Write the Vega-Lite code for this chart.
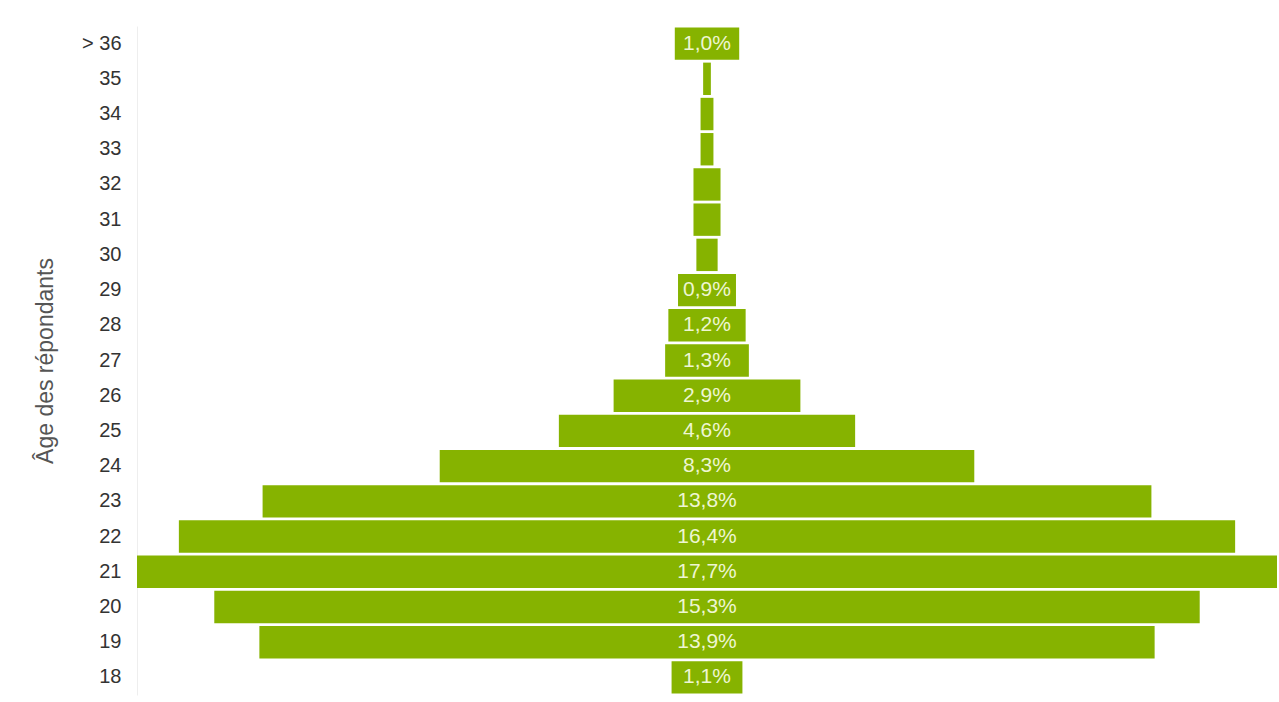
{
  "$schema": "https://vega.github.io/schema/vega-lite/v6.json",
  "width": 1140,
  "height": 669,
  "autosize": {"type": "none"},
  "padding": {"left": 137, "top": 26, "right": 2, "bottom": 7},
  "background": "white",
  "config": {
    "view": {"stroke": null},
    "font": "Liberation Sans",
    "locale": {"number": {"decimal": ",", "thousands": ".", "grouping": [3], "currency": ["", " €"]}}
  },
  "data": {
    "values": [
      {"age": "> 36", "ord": 1, "v": 0.010},
      {"age": "35", "ord": 2, "v": 0.0012},
      {"age": "34", "ord": 3, "v": 0.002},
      {"age": "33", "ord": 4, "v": 0.002},
      {"age": "32", "ord": 5, "v": 0.0042},
      {"age": "31", "ord": 6, "v": 0.0042},
      {"age": "30", "ord": 7, "v": 0.0033},
      {"age": "29", "ord": 8, "v": 0.009},
      {"age": "28", "ord": 9, "v": 0.012},
      {"age": "27", "ord": 10, "v": 0.013},
      {"age": "26", "ord": 11, "v": 0.029},
      {"age": "25", "ord": 12, "v": 0.046},
      {"age": "24", "ord": 13, "v": 0.083},
      {"age": "23", "ord": 14, "v": 0.138},
      {"age": "22", "ord": 15, "v": 0.164},
      {"age": "21", "ord": 16, "v": 0.177},
      {"age": "20", "ord": 17, "v": 0.153},
      {"age": "19", "ord": 18, "v": 0.139},
      {"age": "18", "ord": 19, "v": 0.011}
    ]
  },
  "transform": [
    {"calculate": "-datum.v/2", "as": "lo"},
    {"calculate": "datum.v/2", "as": "hi"}
  ],
  "encoding": {
    "y": {
      "field": "age",
      "type": "nominal",
      "sort": {"field": "ord", "order": "ascending"},
      "scale": {"paddingInner": 0.08, "paddingOuter": 0.04},
      "axis": {
        "title": "Âge des répondants",
        "titleFont": "Liberation Sans",
        "titleFontSize": 23,
        "titleFontWeight": "normal",
        "titleColor": "#555555",
        "titlePadding": 24,
        "labelFontSize": 20,
        "labelColor": "#333333",
        "labelPadding": 16,
        "ticks": false,
        "domain": true,
        "domainColor": "#eeeeee",
        "domainWidth": 1
      }
    }
  },
  "layer": [
    {
      "mark": {"type": "bar", "color": "#86b300"},
      "encoding": {
        "x": {"field": "lo", "type": "quantitative", "scale": {"domain": [-0.0885, 0.0885], "nice": false, "zero": false}, "axis": null},
        "x2": {"field": "hi"}
      }
    },
    {
      "transform": [{"filter": "datum.v >= 0.008"}],
      "mark": {"type": "text", "color": "#eef6d2", "fontSize": 21, "align": "center", "baseline": "middle"},
      "encoding": {
        "x": {"datum": 0, "type": "quantitative"},
        "text": {"field": "v", "type": "quantitative", "format": ".1%"}
      }
    }
  ]
}
